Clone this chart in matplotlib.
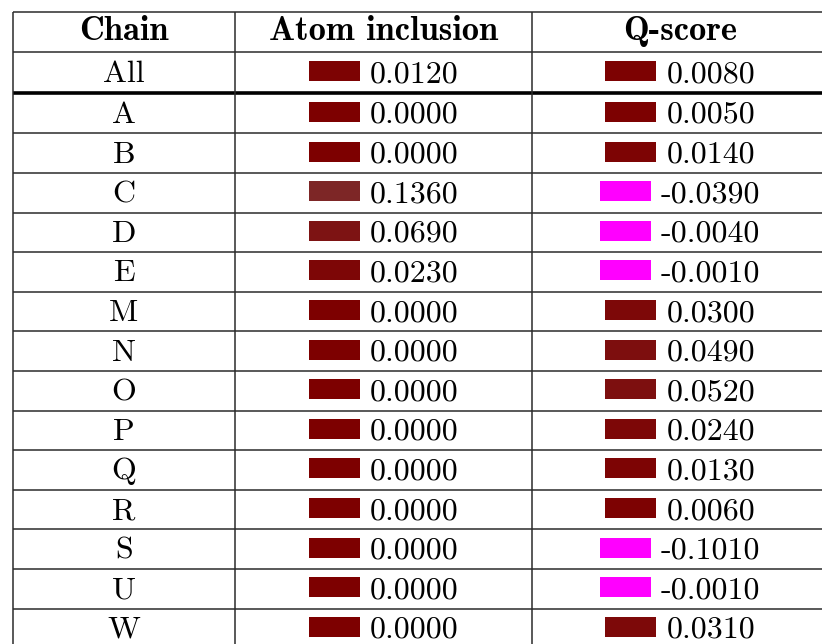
import matplotlib.pyplot as plt
from matplotlib.patches import Rectangle

# -------------------------- Data --------------------------
headers = ['Chain', 'Atom inclusion', 'Q-score']
chains = ['All', 'A', 'B', 'C', 'D', 'E', 'M', 'N', 'O', 'P', 'Q', 'R', 'S', 'U', 'W']
atom_inclusion = [0.0120, 0.0000, 0.0000, 0.1360, 0.0690, 0.0230, 0.0000, 0.0000,
                  0.0000, 0.0000, 0.0000, 0.0000, 0.0000, 0.0000, 0.0000]
q_score = [0.0080, 0.0050, 0.0140, -0.0390, -0.0040, -0.0010, 0.0300, 0.0490,
           0.0520, 0.0240, 0.0130, 0.0060, -0.1010, -0.0010, 0.0310]

# -------------------------- Layout (pixels) --------------------------
W, H = 822, 644
col_edges = [13, 234.5, 532.3, 828]
row_edges = [12.3, 52.0, 93.0] + [133.3 + 39.6 * k for k in range(14)]
bar_w, bar_h, gap = 51, 20, 10
fs_body, fs_head = 23, 24.8


def swatch_color(v):
    # magenta for negatives, maroon lightening with the value otherwise
    if v < 0:
        return '#ff00ff'
    g = min(v * 1.1, 1.0)
    return (0.49, g, g)


fig = plt.figure(figsize=(W / 100, H / 100), dpi=100)
ax = fig.add_axes([0, 0, 1, 1])
ax.set_xlim(0, W)
ax.set_ylim(H, 0)
ax.axis('off')
renderer = fig.canvas.get_renderer()

# Grid lines
for i, y in enumerate(row_edges):
    if i == 2:
        ax.plot([col_edges[0], W + 5], [y, y], color='black', lw=2.6, solid_capstyle='butt')
    else:
        ax.plot([col_edges[0], W + 5], [y, y], color='#2b2b2b', lw=1.1, solid_capstyle='butt')
for x in col_edges[:3]:
    ax.plot([x, x], [row_edges[0], H + 5], color='#2b2b2b', lw=1.1, solid_capstyle='butt')

col_centers = [(col_edges[j] + col_edges[j + 1]) / 2 for j in range(3)]

# Header
yc = (row_edges[0] + row_edges[1]) / 2
for j, h in enumerate(headers):
    ax.text(col_centers[j], yc + 7.5, h, family='cmb10', fontsize=fs_head,
            ha='center', va='baseline')


def cell(xc, yc, v):
    t = ax.text(0, yc + 9.5, f'{v:.4f}', family='cmr10', fontsize=fs_body,
                ha='left', va='baseline')
    tw = t.get_window_extent(renderer).width
    left = xc - (bar_w + gap + tw) / 2
    t.set_x(left + bar_w + gap)
    ax.add_patch(Rectangle((left, yc - bar_h / 2 - 1.5), bar_w, bar_h,
                           facecolor=swatch_color(v), edgecolor='none'))


for i, ch in enumerate(chains):
    yc = (row_edges[i + 1] + row_edges[i + 2]) / 2
    ax.text(col_centers[0], yc + 9.5, ch, family='cmr10', fontsize=fs_body,
            ha='center', va='baseline')
    cell(col_centers[1], yc, atom_inclusion[i])
    cell(col_centers[2], yc, q_score[i])

plt.savefig('out.png', dpi=100)
